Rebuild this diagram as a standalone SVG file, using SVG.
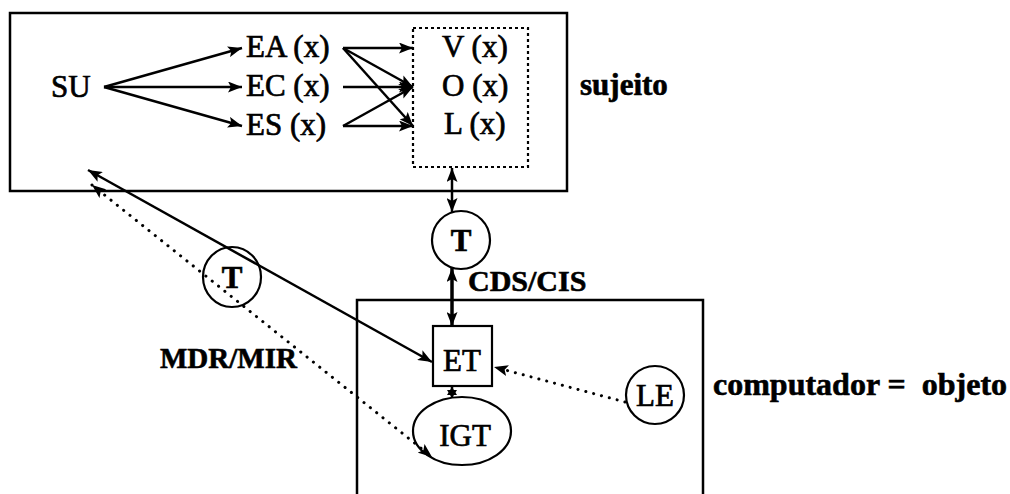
<svg xmlns="http://www.w3.org/2000/svg" width="1010" height="494" viewBox="0 0 1010 494">
<style>
.box{fill:none;stroke:#000;stroke-width:2.5}
.dbox{fill:none;stroke:#000;stroke-width:2.2;stroke-dasharray:3 3}
.ln{fill:none;stroke:#000;stroke-width:2.5}
.thick{fill:none;stroke:#000;stroke-width:3.5}
.dot{fill:none;stroke:#000;stroke-width:3;stroke-dasharray:0.1 8;stroke-linecap:round}
.node{fill:#fff;stroke:#000;stroke-width:2.2}
.t{font-family:"Liberation Serif","Times New Roman",serif;font-size:31px;fill:#000;stroke:#000;stroke-width:0.7}
.b{font-family:"Liberation Serif","Times New Roman",serif;font-weight:bold;fill:#000;stroke:#000;stroke-width:0.6}
</style>
<defs>
<marker id="ah" viewBox="0 0 14 11" refX="14" refY="5.5" markerWidth="14" markerHeight="11" markerUnits="userSpaceOnUse" orient="auto-start-reverse">
<path d="M0,0 L14,5.5 L0,11 L3,5.5 z" fill="#000"/>
</marker>
<marker id="ahs" viewBox="0 0 8 10" refX="8" refY="5" markerWidth="8" markerHeight="10" markerUnits="userSpaceOnUse" orient="auto-start-reverse">
<path d="M0,0 L8,5 L0,10 z" fill="#000"/>
</marker>
</defs>

<g id="sujeito-box">
<rect class="box" x="10" y="13" width="557" height="178"/>
<text class="b" x="580" y="95" font-size="31">sujeito</text>
</g>

<g id="vol-box">
<rect class="dbox" x="413" y="28" width="115" height="139"/>
</g>

<g id="SU"><text class="t" x="51" y="97">SU</text></g>
<g id="EA"><text class="t" x="246" y="57">EA (x)</text></g>
<g id="EC"><text class="t" x="246" y="96">EC (x)</text></g>
<g id="ES"><text class="t" x="246" y="135">ES (x)</text></g>
<g id="V"><text class="t" x="442" y="57">V (x)</text></g>
<g id="O"><text class="t" x="442" y="96">O (x)</text></g>
<g id="L"><text class="t" x="444" y="134">L (x)</text></g>

<g id="computador-box">
<rect class="box" x="357" y="300" width="346" height="210"/>
<text class="b" x="713" y="395" font-size="32" style="white-space:pre">computador =  objeto</text>
</g>

<g id="T1">
<ellipse class="node" cx="461" cy="240" rx="29" ry="29"/>
<text class="b" x="461" y="251" font-size="31" text-anchor="middle">T</text>
</g>

<g id="T2">
<ellipse class="node" cx="232" cy="277" rx="29" ry="30"/>
<text class="b" x="232" y="288" font-size="31" text-anchor="middle">T</text>
</g>

<g id="ET">
<rect class="node" x="433" y="326" width="59" height="60"/>
<text class="t" x="462" y="371" font-size="33" text-anchor="middle">ET</text>
</g>

<g id="IGT">
<ellipse class="node" cx="462" cy="431" rx="49" ry="34"/>
<text class="t" x="465" y="446" text-anchor="middle">IGT</text>
</g>

<g id="LE">
<circle class="node" cx="655" cy="395" r="29"/>
<text class="t" x="655" y="406" text-anchor="middle">LE</text>
</g>

<g id="labels">
<text class="b" x="468" y="291" font-size="30">CDS/CIS</text>
<text class="b" x="160" y="368" font-size="29">MDR/MIR</text>
</g>

<g id="connectors">
<line class="ln" x1="104" y1="87" x2="242" y2="48" marker-end="url(#ah)"/>
<line class="ln" x1="104" y1="87" x2="242" y2="87" marker-end="url(#ah)"/>
<line class="ln" x1="104" y1="87" x2="242" y2="126" marker-end="url(#ah)"/>
<line class="ln" x1="343" y1="48" x2="413" y2="48" marker-end="url(#ah)"/>
<line class="ln" x1="343" y1="48" x2="413" y2="87" marker-end="url(#ah)"/>
<line class="ln" x1="343" y1="48" x2="413" y2="126" marker-end="url(#ah)"/>
<line class="ln" x1="343" y1="87" x2="413" y2="87" marker-end="url(#ah)"/>
<line class="ln" x1="343" y1="126" x2="413" y2="87" marker-end="url(#ah)"/>
<line class="ln" x1="343" y1="126" x2="413" y2="126" marker-end="url(#ah)"/>
<line class="ln" x1="452" y1="168" x2="452" y2="212" marker-start="url(#ah)" marker-end="url(#ah)"/>
<line class="thick" x1="452" y1="268" x2="452" y2="326" marker-start="url(#ah)" marker-end="url(#ah)"/>
<line class="ln" x1="452" y1="387" x2="452" y2="398" marker-start="url(#ahs)" marker-end="url(#ahs)"/>
<line class="ln" x1="88" y1="170" x2="432" y2="362" marker-start="url(#ah)" marker-end="url(#ah)"/>
<line class="dot" x1="92" y1="185" x2="432" y2="457" marker-start="url(#ah)" marker-end="url(#ah)"/>
<line class="dot" x1="625" y1="402" x2="494" y2="367" marker-end="url(#ah)"/>
</g>
</svg>
